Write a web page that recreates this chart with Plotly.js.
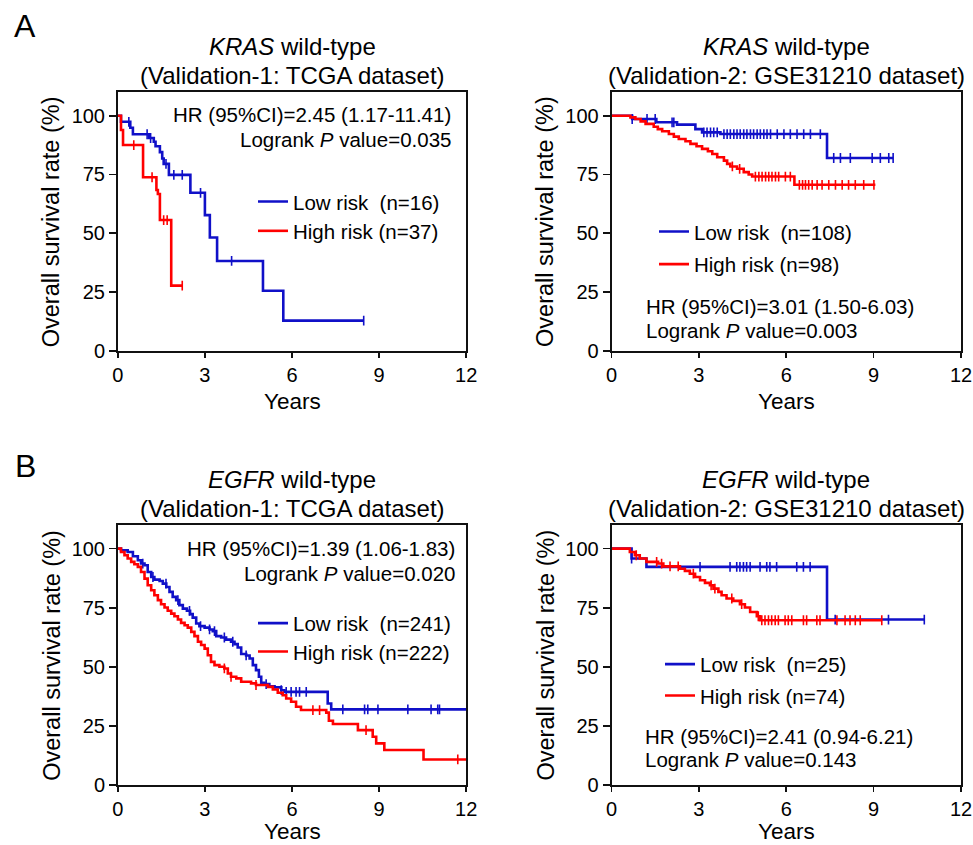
<!DOCTYPE html>
<html><head><meta charset="utf-8">
<script src="https://cdn.plot.ly/plotly-3.0.1.min.js"></script>
<style>html,body{margin:0;padding:0;background:#fff}#chart{width:973px;height:845px}</style>
</head><body><div id="chart"></div>
<script>
// ---------- Panel A-left: KRAS wild-type, TCGA ----------
const aL_low_t  = [0, 0.11, 0.43, 0.52, 1.08, 1.24, 1.30, 1.45, 1.53, 1.58, 1.76, 2.50, 3.00, 3.17, 3.42, 5.00, 5.70, 8.47];
const aL_low_s  = [100, 97.4, 94.9, 92.1, 90.5, 88.9, 87.0, 84.5, 81.8, 79.5, 74.8, 67.2, 57.7, 48.2, 38.2, 25.5, 12.8, 12.8];
const aL_low_c  = [0.38, 1.01, 1.13, 1.66, 1.93, 2.22, 2.85, 3.92, 8.47];
const aL_high_t = [0, 0.11, 0.18, 0.87, 1.33, 1.38, 1.45, 1.84, 2.22];
const aL_high_s = [100, 93.9, 87.5, 73.8, 68.4, 66.7, 55.6, 27.7, 27.7];
const aL_high_c = [0.55, 1.18, 1.58, 1.70, 2.22];

// ---------- Panel A-right: KRAS wild-type, GSE31210 ----------
const aR_low_t  = [0, 0.71, 1.54, 2.25, 2.88, 3.11, 3.74, 7.40, 9.67];
const aR_low_s  = [100, 98.6, 97.2, 96.2, 94.3, 92.9, 92.2, 82.0, 82.0];
const aR_low_c  = [0.71, 1.22, 1.50, 2.08, 2.14, 3.17, 3.28, 3.40, 3.51, 3.63, 3.86, 3.97, 4.08, 4.20, 4.31, 4.42, 4.54, 4.65, 4.77, 4.88, 5.00, 5.11, 5.23, 5.34, 5.46, 5.69, 5.92, 6.14, 6.37, 6.60, 6.83, 7.17, 7.63, 7.86, 8.20, 8.95, 9.23, 9.52, 9.67];
const aR_high_t = [0, 0.65, 0.82, 1.00, 1.17, 1.45, 1.59, 1.74, 1.97, 2.14, 2.31, 2.54, 2.71, 2.92, 3.11, 3.31, 3.46, 3.63, 3.86, 3.97, 4.08, 4.31, 4.54, 4.71, 4.83, 6.28, 9.06];
const aR_high_s = [100, 99.3, 98.6, 97.6, 96.5, 95.3, 94.3, 93.4, 92.2, 91.1, 90.1, 89.1, 88.0, 87.0, 85.9, 84.9, 83.7, 82.3, 80.9, 79.5, 78.4, 77.4, 76.0, 75.0, 74.1, 70.6, 70.6];
const aR_high_c = [4.15, 4.40, 4.94, 5.06, 5.17, 5.29, 5.40, 5.51, 5.63, 5.74, 5.97, 6.14, 6.45, 6.56, 6.66, 6.77, 6.89, 7.06, 7.23, 7.46, 7.69, 7.92, 8.14, 8.37, 8.66, 9.01];

// ---------- Panel B-left: EGFR wild-type, TCGA ----------
const bL_low_t  = [0, 0.11, 0.34, 0.52, 0.69, 0.80, 0.92, 1.03, 1.15, 1.26, 1.44, 1.55, 1.67, 1.78, 1.89, 2.01, 2.12, 2.24, 2.38, 2.49, 2.58, 2.70, 2.81, 2.99, 3.16, 3.27, 3.39, 3.56, 3.73, 3.90, 4.02, 4.13, 4.25, 4.42, 4.54, 4.65, 4.76, 4.86, 4.94, 5.05, 5.22, 5.40, 5.63, 5.74, 7.23, 7.35, 12.0];
const bL_low_s  = [100, 99.3, 98.6, 96.8, 95.1, 93.7, 93.0, 90.1, 88.0, 86.9, 86.3, 85.2, 83.8, 81.7, 79.6, 78.2, 76.1, 74.6, 73.7, 72.3, 70.8, 68.3, 67.2, 66.6, 65.8, 65.1, 63.0, 62.4, 61.5, 60.6, 59.6, 58.2, 55.4, 54.8, 53.5, 50.7, 48.6, 45.8, 43.2, 42.7, 41.8, 41.3, 40.1, 39.4, 34.5, 32.0, 32.0];
const bL_low_c  = [0.86, 1.21, 1.66, 2.07, 2.47, 2.85, 3.16, 3.33, 3.67, 3.96, 4.42, 5.11, 5.63, 5.80, 5.97, 6.14, 6.26, 6.49, 7.75, 8.50, 8.61, 8.96, 9.99, 10.79, 11.02, 11.08];
const bL_high_t = [0, 0.11, 0.23, 0.34, 0.46, 0.57, 0.69, 0.80, 0.92, 1.03, 1.15, 1.26, 1.38, 1.49, 1.61, 1.72, 1.84, 1.95, 2.07, 2.18, 2.30, 2.41, 2.53, 2.64, 2.76, 2.87, 2.99, 3.10, 3.21, 3.33, 3.50, 3.67, 3.79, 3.90, 4.08, 4.25, 4.59, 4.76, 5.17, 5.34, 5.51, 5.68, 5.80, 5.97, 6.14, 6.31, 7.18, 7.27, 7.41, 8.27, 8.78, 8.90, 9.18, 10.53, 12.0];
const bL_high_s = [100, 98.6, 97.2, 95.8, 94.4, 93.4, 92.3, 90.1, 87.3, 84.5, 82.4, 80.3, 78.2, 76.5, 75.1, 73.7, 72.5, 71.4, 70.0, 68.6, 67.6, 66.6, 64.8, 63.0, 60.6, 59.2, 57.7, 54.9, 52.1, 50.7, 50.0, 49.3, 47.2, 45.8, 45.1, 43.7, 43.0, 42.3, 41.5, 40.4, 39.0, 38.0, 36.6, 35.2, 33.1, 31.7, 30.6, 27.2, 25.8, 23.2, 20.4, 17.6, 14.8, 10.8, 10.8];
const bL_high_c = [3.67, 3.90, 4.76, 6.72, 6.95, 8.55, 11.71];

// ---------- Panel B-right: EGFR wild-type, GSE31210 ----------
const bR_low_t  = [0, 0.69, 1.20, 7.40, 10.74];
const bR_low_s  = [100, 95.8, 92.3, 70.0, 70.0];
const bR_low_c  = [0.69, 3.04, 4.07, 4.30, 4.41, 4.53, 4.64, 4.76, 5.10, 5.33, 5.44, 5.67, 6.36, 6.59, 6.82, 7.68, 9.51, 10.74];
const bR_high_t = [0, 0.63, 0.80, 0.97, 1.20, 1.60, 1.78, 2.35, 2.52, 2.69, 2.87, 3.04, 3.21, 3.38, 3.50, 3.67, 3.78, 3.95, 4.18, 4.41, 4.58, 4.76, 4.99, 5.10, 9.28];
const bR_high_s = [100, 98.6, 97.2, 95.8, 94.4, 93.7, 92.5, 91.5, 90.6, 89.4, 88.0, 86.6, 85.5, 84.5, 83.1, 81.7, 80.3, 78.9, 77.9, 76.5, 75.1, 73.2, 71.4, 69.7, 69.7];
const bR_high_c = [0.85, 1.55, 1.72, 2.01, 2.29, 2.81, 3.42, 3.55, 4.13, 4.47, 5.04, 5.16, 5.27, 5.39, 5.50, 5.62, 5.73, 5.96, 6.07, 6.19, 6.59, 6.70, 7.05, 7.16, 7.74, 8.02, 8.19, 8.37, 8.54, 9.28];

// ---------- Text ----------
const titles = [
  ["<i>KRAS</i> wild-type", "(Validation-1: TCGA dataset)"],
  ["<i>KRAS</i> wild-type", "(Validation-2: GSE31210 dataset)"],
  ["<i>EGFR</i> wild-type", "(Validation-1: TCGA dataset)"],
  ["<i>EGFR</i> wild-type", "(Validation-2: GSE31210 dataset)"]
];
const stats = [
  ["HR (95%CI)=2.45 (1.17-11.41)", "Logrank <i>P</i> value=0.035"],
  ["HR (95%CI)=3.01 (1.50-6.03)", "Logrank <i>P</i> value=0.003"],
  ["HR (95%CI)=1.39 (1.06-1.83)", "Logrank <i>P</i> value=0.020"],
  ["HR (95%CI)=2.41 (0.94-6.21)", "Logrank <i>P</i> value=0.143"]
];
const legendLabels = [
  ["Low risk\u00a0 (n=16)", "High risk (n=37)"],
  ["Low risk\u00a0 (n=108)", "High risk (n=98)"],
  ["Low risk\u00a0 (n=241)", "High risk (n=222)"],
  ["Low risk\u00a0 (n=25)", "High risk (n=74)"]
];
const xTicks = [0, 3, 6, 9, 12];
const yTicks = [0, 25, 50, 75, 100];

// ---------- Build ----------
const FONT = "Liberation Sans, Arial, sans-serif";
const BLUE = "rgb(16,16,200)";
const RED = "rgb(255,0,0)";
const W = 973, H = 845;
const px = v => v / W;
const py = v => 1 - v / H;

function stepAt(t, s, x) {
  let v = s[0];
  for (let i = 0; i < t.length; i++) { if (t[i] <= x) v = s[i]; else break; }
  return v;
}

const panels = [
  {low: [aL_low_t, aL_low_s, aL_low_c], high: [aL_high_t, aL_high_s, aL_high_c]},
  {low: [aR_low_t, aR_low_s, aR_low_c], high: [aR_high_t, aR_high_s, aR_high_c]},
  {low: [bL_low_t, bL_low_s, bL_low_c], high: [bL_high_t, bL_high_s, bL_high_c]},
  {low: [bR_low_t, bR_low_s, bR_low_c], high: [bR_high_t, bR_high_s, bR_high_c]}
];
// pixel geometry of the four plot boxes: [left, right, top, bottom]
const boxes = [
  [117.8, 466.2, 92.2, 350.7],
  [611.5, 961.0, 92.2, 350.7],
  [117.8, 466.2, 525.0, 785.0],
  [611.5, 961.0, 525.0, 785.0]
];
// legend rows: text start x, row centre y (low, high)
const legPos = [
  [293, 196.7, 226.0],
  [694, 226.7, 259.3],
  [293, 618.3, 646.7],
  [700, 659.3, 690.7]
];
// stats text: anchor x, align, centre y rows
const statPos = [
  [453, 'right', 114.5, 139.5],
  [644, 'left', 306.7, 330.7],
  [457, 'right', 548.3, 573.3],
  [643, 'left', 736.7, 759.7]
];
// x-axis title centre y
const yearsY = [401.7, 401.7, 831.5, 831.5];

const traces = [];
const layout = {
  width: W, height: H,
  margin: {l: 0, r: 0, t: 0, b: 0},
  paper_bgcolor: "#fff", plot_bgcolor: "#fff",
  showlegend: true,
  font: {family: FONT, color: "#000"},
  annotations: [],
};

let legIdx = 1;
panels.forEach((p, i) => {
  const n = i + 1;
  const xa = n === 1 ? 'x' : 'x' + n;
  const ya = n === 1 ? 'y' : 'y' + n;
  const b = boxes[i];
  const axCommon = {
    showgrid: false, zeroline: false, showline: true, mirror: true,
    linecolor: "#111", linewidth: 1.8,
    ticks: "outside", tickwidth: 1.6, tickcolor: "#111",
    tickfont: {family: FONT, size: 20, color: "#000"},
    fixedrange: true
  };
  layout['xaxis' + (n === 1 ? '' : n)] = Object.assign({}, axCommon, {
    domain: [px(b[0]), px(b[1])], anchor: ya, range: [0, 12], ticklen: 5,
    tickvals: xTicks, ticktext: xTicks.map(String)
  });
  layout['yaxis' + (n === 1 ? '' : n)] = Object.assign({}, axCommon, {
    domain: [py(b[3]), py(b[2])], anchor: xa, range: [0, 110], ticklen: 7,
    tickvals: yTicks, ticktext: yTicks.map(String)
  });

  [['low', BLUE, 0], ['high', RED, 1]].forEach(([k, col, r]) => {
    const [t, s, c] = p[k];
    const lname = legIdx === 1 ? 'legend' : 'legend' + legIdx;
    traces.push({
      type: 'scatter', mode: 'lines', x: t, y: s, xaxis: xa, yaxis: ya,
      line: {shape: 'hv', color: col, width: 2.6},
      name: legendLabels[i][r], legend: lname, showlegend: true, hoverinfo: 'skip'
    });
    traces.push({
      type: 'scatter', mode: 'markers', x: c, y: c.map(v => stepAt(t, s, v)),
      xaxis: xa, yaxis: ya, showlegend: false, hoverinfo: 'skip',
      marker: {symbol: 'line-ns-open', size: 7, color: col, line: {color: col, width: 1.6}}
    });
    const lp = legPos[i];
    layout[lname] = {
      x: px(lp[0] - 40), y: py(lp[1 + r] - 15), xanchor: 'left', yanchor: 'top',
      bgcolor: 'rgba(0,0,0,0)', borderwidth: 0,
      font: {family: FONT, size: 20.5, color: '#000'}
    };
    legIdx++;
  });

  const cx = (b[0] + b[1]) / 2;
  // titles
  layout.annotations.push({xref: 'paper', yref: 'paper', x: px(cx), y: py(b[2] - 45.5), text: titles[i][0],
    showarrow: false, xanchor: 'center', yanchor: 'middle', font: {family: FONT, size: 24, color: '#000'}});
  layout.annotations.push({xref: 'paper', yref: 'paper', x: px(cx), y: py(b[2] - 16.5), text: titles[i][1],
    showarrow: false, xanchor: 'center', yanchor: 'middle', font: {family: FONT, size: 24, color: '#000'}});
  // axis titles
  layout.annotations.push({xref: 'paper', yref: 'paper', x: px(cx), y: py(yearsY[i]), text: 'Years',
    showarrow: false, xanchor: 'center', yanchor: 'middle', font: {family: FONT, size: 22.5, color: '#000'}});
  layout.annotations.push({xref: 'paper', yref: 'paper', x: px(b[0] - 66), y: py((b[2] + b[3]) / 2), text: 'Overall survival rate (%)',
    showarrow: false, textangle: -90, xanchor: 'center', yanchor: 'middle', font: {family: FONT, size: 23.5, color: '#000'}});
  // stats
  const sp = statPos[i];
  [0, 1].forEach(r => {
    layout.annotations.push({xref: 'paper', yref: 'paper', x: px(sp[0]), y: py(sp[2 + r]), text: stats[i][r],
      showarrow: false, xanchor: sp[1], yanchor: 'middle', align: sp[1], font: {family: FONT, size: 20.5, color: '#000'}});
  });
});
// panel letters
layout.annotations.push({xref: 'paper', yref: 'paper', x: px(25), y: py(26), text: 'A', showarrow: false,
  xanchor: 'center', yanchor: 'middle', font: {family: FONT, size: 32, color: '#000'}});
layout.annotations.push({xref: 'paper', yref: 'paper', x: px(25), y: py(466), text: 'B', showarrow: false,
  xanchor: 'center', yanchor: 'middle', font: {family: FONT, size: 32, color: '#000'}});

Plotly.newPlot('chart', traces, layout, {displayModeBar: false, staticPlot: true});
</script></body></html>
